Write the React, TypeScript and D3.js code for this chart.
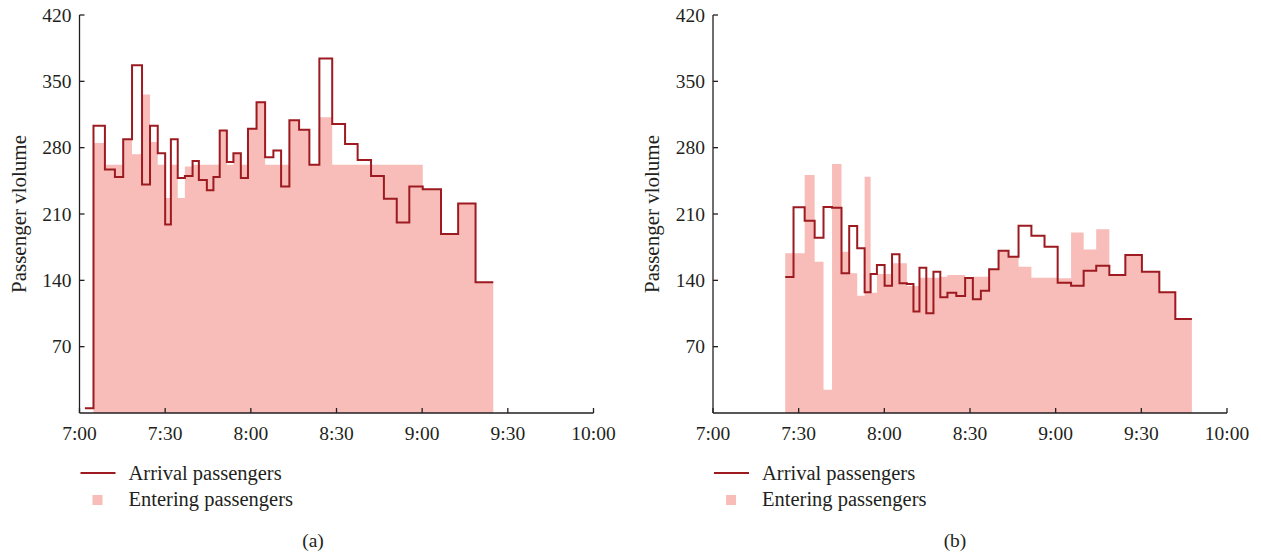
import React from 'react';
import * as d3 from 'd3';

// Time is expressed in minutes after 7:00; each series is a step series
// over bins [edges[i], edges[i + 1]).
const X_TICKS = [0, 30, 60, 90, 120, 150, 180];
const X_TICK_LABELS = ['7:00', '7:30', '8:00', '8:30', '9:00', '9:30', '10:00'];
const Y_TICKS = [70, 140, 210, 280, 350, 420];

const edgesA = [
  1.9, 4.9, 8.9, 12.4, 15.3, 18.4, 21.9, 24.7, 27.4, 30.0,
  32.0, 34.4, 36.9, 39.6, 41.8, 44.6, 46.9, 49.1, 51.6, 53.9,
  56.5, 59.0, 62.0, 65.0, 67.9, 70.6, 73.5, 76.9, 80.5, 84.0,
  88.5, 93.0, 97.4, 102.1, 106.6, 111.1, 115.5, 120.2, 126.6, 132.6,
  138.7, 144.9,
];
const arrivalA = [
  5, 303, 257, 249, 289, 367, 241, 303, 274, 199,
  289, 248, 250, 266, 246, 235, 249, 298, 265, 274,
  248, 300, 328, 270, 277, 239, 309, 299, 262, 374,
  305, 284, 267, 250, 226, 201, 239, 236, 189, 221,
  138,
];
const enteringA = [
  0, 285, 262, 262, 288, 273, 336, 286, 262, 227,
  262, 227, 260, 262, 262, 262, 262, 298, 262, 274,
  262, 300, 328, 262, 262, 262, 309, 299, 262, 312,
  262, 262, 262, 262, 262, 262, 262, 236, 189, 221,
  138,
];

const edgesB = [
  25.3, 28.2, 32.1, 35.6, 38.7, 41.7, 45.0, 47.7, 50.5, 53.1,
  55.2, 57.4, 60.1, 62.7, 65.3, 67.9, 70.2, 72.3, 74.7, 77.2,
  79.6, 82.1, 85.2, 88.3, 91.0, 93.8, 96.7, 100.0, 103.5, 107.0,
  111.5, 116.1, 120.7, 125.4, 129.8, 134.2, 138.8, 144.4, 150.2, 156.3,
  161.9, 167.7,
];
const arrivalB = [
  143.5, 217, 203, 185, 217.5, 216.5, 147.4, 197.3, 173.8, 127.4,
  146.7, 156.2, 134.3, 167.5, 136.9, 136, 107, 153.3, 105.2, 149.1,
  122.1, 127, 123.5, 142.5, 120, 129.1, 151.8, 171.2, 165, 197.5,
  187.1, 175.5, 137.5, 134.3, 150.2, 155.4, 145.6, 166.7, 149.1, 127.4,
  99.2,
];
const enteringB = [
  168.5, 168.5, 251.2, 159.7, 24.5, 262.8, 170.2, 147.4, 123.8, 249.4,
  127, 146.7, 146.7, 158, 158, 134, 134, 142.8, 142.8, 142.8,
  143.8, 145.6, 145.6, 142.1, 143.8, 143.8, 151.8, 171.2, 165, 154.4,
  142.8, 142.8, 142.1, 190.5, 172.5, 194, 145.6, 166.7, 149.1, 127.4,
  99.2,
];

const FILL = '#F8BCB9';
const LINE = '#9C1A20';
const AXIS = '#231F20';
const FONT = '"Liberation Serif", "DejaVu Serif", serif';

type PanelProps = {
  left: number;
  edges: number[];
  arrival: number[];
  entering: number[];
  tag: string;
  tagX: number;
};

function stepPoints(edges: number[], vals: number[]): [number, number][] {
  const pts: [number, number][] = vals.map((v, i) => [edges[i], v]);
  pts.push([edges[edges.length - 1], vals[vals.length - 1]]);
  return pts;
}

function Panel({ left, edges, arrival, entering, tag, tagX }: PanelProps) {
  const width = 514;
  const top = 15;
  const bottom = 413;
  const x = d3.scaleLinear().domain([0, 180]).range([left, left + width]);
  const y = d3.scaleLinear().domain([0, 420]).range([bottom, top]);

  const area = d3
    .area<[number, number]>()
    .x((d) => x(d[0]))
    .y0(y(0))
    .y1((d) => y(d[1]))
    .curve(d3.curveStepAfter);
  const line = d3
    .line<[number, number]>()
    .x((d) => x(d[0]))
    .y((d) => y(d[1]))
    .curve(d3.curveStepAfter);

  const fillPath = area(stepPoints(edges, entering)) || '';
  const linePath = line(stepPoints(edges, arrival)) || '';

  return (
    <g>
      <path d={fillPath} fill={FILL} stroke="none" />
      <path d={linePath} fill="none" stroke={LINE} strokeWidth={2} strokeLinejoin="miter" />

      {/* axes */}
      <line x1={left} x2={left} y1={top} y2={bottom} stroke={AXIS} strokeWidth={1.3} />
      <line x1={left} x2={left + width} y1={bottom} y2={bottom} stroke={AXIS} strokeWidth={1.3} />
      {Y_TICKS.map((t) => (
        <g key={'y' + t}>
          <line x1={left} x2={left + 5} y1={y(t)} y2={y(t)} stroke={AXIS} strokeWidth={1.3} />
          <text
            x={left - 8}
            y={y(t)}
            textAnchor="end"
            dominantBaseline="central"
            fontFamily={FONT}
            fontSize={19.5}
            fill={AXIS}
          >
            {t}
          </text>
        </g>
      ))}
      {X_TICKS.map((t, i) => (
        <g key={'x' + t}>
          <line x1={x(t)} x2={x(t)} y1={bottom} y2={bottom - 5} stroke={AXIS} strokeWidth={1.3} />
          <text
            x={x(t)}
            y={bottom + 20}
            textAnchor="middle"
            dominantBaseline="central"
            fontFamily={FONT}
            fontSize={19.5}
            fill={AXIS}
          >
            {X_TICK_LABELS[i]}
          </text>
        </g>
      ))}
      <text
        transform={`translate(${left - 61},${(top + bottom) / 2}) rotate(-90)`}
        textAnchor="middle"
        dominantBaseline="central"
        fontFamily={FONT}
        fontSize={21}
        fill={AXIS}
      >
        Passenger vlolume
      </text>

      {/* legend */}
      <line x1={left + 1} x2={left + 36} y1={473} y2={473} stroke={LINE} strokeWidth={2} />
      <text x={left + 49} y={473} dominantBaseline="central" fontFamily={FONT} fontSize={20.5} fill={AXIS}>
        Arrival passengers
      </text>
      <rect x={left + 13} y={495} width={10} height={10} fill={FILL} />
      <text x={left + 49} y={499} dominantBaseline="central" fontFamily={FONT} fontSize={20.5} fill={AXIS}>
        Entering passengers
      </text>

      <text x={tagX} y={540} textAnchor="middle" dominantBaseline="central" fontFamily={FONT} fontSize={19.5} fill={AXIS}>
        {tag}
      </text>
    </g>
  );
}

export default function App() {
  return (
    <div style={{ position: 'absolute', left: 0, top: 0 }}>
      <svg width={1261} height={556} viewBox="0 0 1261 556" style={{ display: 'block', background: '#fff' }}>
        <Panel left={79.5} edges={edgesA} arrival={arrivalA} entering={enteringA} tag="(a)" tagX={313} />
        <Panel left={713} edges={edgesB} arrival={arrivalB} entering={enteringB} tag="(b)" tagX={955} />
      </svg>
    </div>
  );
}
